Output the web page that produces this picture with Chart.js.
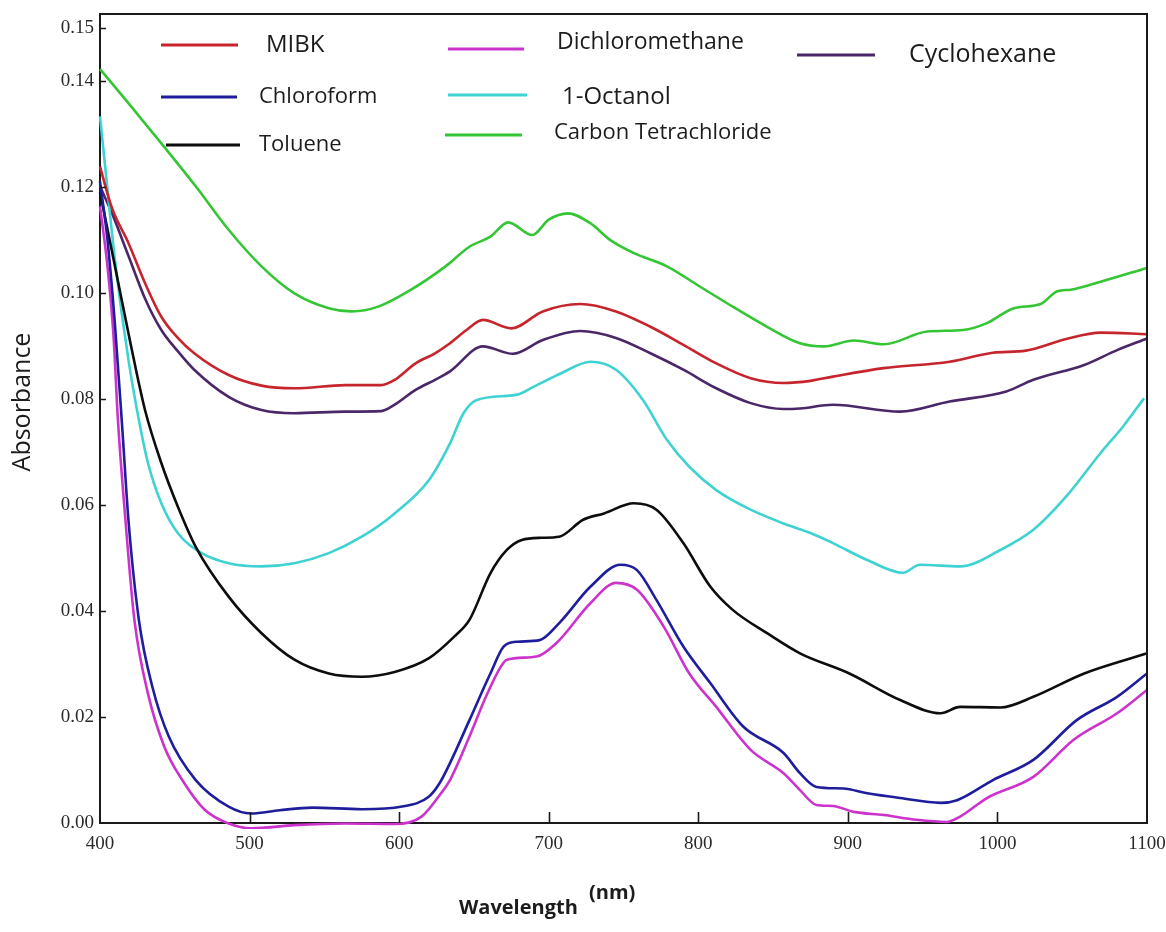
<!DOCTYPE html>
<html>
<head>
<meta charset="utf-8">
<title>Absorbance spectra</title>
<script src="https://cdn.jsdelivr.net/npm/chart.js@4.4.1/dist/chart.umd.min.js"></script>
<style>
  html, body { margin: 0; padding: 0; background: #ffffff; }
  #wrap { width: 1166px; height: 932px; }
</style>
</head>
<body>
<div id="wrap"><canvas id="spectra" width="1166" height="932"></canvas></div>
<script>
// Wavelengths (nm) and absorbance readings for each solvent
const mibkNm  = [400, 408, 419, 430, 441, 452, 463, 486, 508, 530, 564, 588, 597, 611, 624, 634, 645, 656, 675, 696, 721, 745, 768, 790, 812, 835, 857, 875, 890, 924, 968, 997, 1019, 1046, 1069, 1100];
const mibkAbs = [0.1238, 0.1160, 0.1094, 0.1019, 0.0955, 0.0915, 0.0886, 0.0845, 0.0825, 0.0820, 0.0826, 0.0826, 0.0836, 0.0867, 0.0886, 0.0905, 0.0930, 0.0949, 0.0933, 0.0965, 0.0979, 0.0965, 0.0936, 0.0902, 0.0867, 0.0839, 0.0830, 0.0834, 0.0842, 0.0858, 0.0870, 0.0887, 0.0891, 0.0913, 0.0925, 0.0922];

const chloroformNm  = [400, 405, 410, 415, 419, 426, 435, 446, 464, 486, 501, 520, 542, 575, 602, 620, 627, 634, 647, 661, 670, 679, 694, 707, 728, 748, 759, 772, 790, 808, 830, 857, 868, 879, 897, 913, 935, 962, 973, 997, 1024, 1053, 1080, 1100];
const chloroformAbs = [0.1210, 0.1100, 0.0940, 0.0740, 0.0572, 0.0383, 0.0257, 0.0163, 0.0081, 0.0031, 0.0018, 0.0024, 0.0029, 0.0026, 0.0031, 0.0050, 0.0075, 0.0113, 0.0194, 0.0282, 0.0333, 0.0342, 0.0345, 0.0377, 0.0446, 0.0487, 0.0477, 0.0421, 0.0333, 0.0264, 0.0182, 0.0132, 0.0094, 0.0068, 0.0065, 0.0056, 0.0047, 0.0038, 0.0043, 0.0081, 0.0119, 0.0194, 0.0238, 0.0282];

const tolueneNm  = [400, 410, 420, 430, 441, 452, 464, 486, 508, 530, 553, 575, 597, 620, 637, 647, 661, 672, 682, 695, 707, 723, 737, 757, 772, 790, 808, 823, 846, 868, 901, 935, 962, 975, 1002, 1024, 1058, 1100];
const tolueneAbs = [0.1190, 0.1050, 0.0910, 0.0780, 0.0679, 0.0597, 0.0521, 0.0427, 0.0358, 0.0308, 0.0282, 0.0276, 0.0285, 0.0311, 0.0352, 0.0383, 0.0471, 0.0515, 0.0534, 0.0538, 0.0540, 0.0572, 0.0584, 0.0603, 0.0591, 0.0528, 0.0446, 0.0402, 0.0358, 0.0320, 0.0282, 0.0232, 0.0207, 0.0219, 0.0218, 0.0238, 0.0282, 0.0320];

const dcmNm  = [400, 405, 409, 412, 417, 423, 432, 443, 455, 470, 486, 501, 530, 564, 597, 615, 628, 634, 647, 658, 668, 672, 692, 705, 728, 745, 759, 777, 794, 812, 835, 857, 868, 879, 890, 904, 924, 946, 966, 975, 993, 1024, 1051, 1080, 1100];
const dcmAbs = [0.1163, 0.1050, 0.0920, 0.0760, 0.0572, 0.0383, 0.0245, 0.0144, 0.0081, 0.0025, -0.0001, -0.0010, -0.0004, -0.0001, -0.0002, 0.0012, 0.0056, 0.0081, 0.0163, 0.0238, 0.0295, 0.0308, 0.0314, 0.0339, 0.0415, 0.0453, 0.0440, 0.0370, 0.0282, 0.0219, 0.0138, 0.0094, 0.0062, 0.0034, 0.0032, 0.0021, 0.0015, 0.0006, 0.0002, 0.0012, 0.0047, 0.0087, 0.0157, 0.0207, 0.0251];

const octanolNm  = [400, 403, 410, 419, 426, 432, 441, 452, 468, 486, 508, 530, 553, 575, 597, 620, 634, 643, 652, 679, 690, 708, 728, 745, 763, 779, 794, 812, 835, 857, 875, 890, 913, 937, 948, 975, 1002, 1024, 1046, 1069, 1084, 1098];
const octanolAbs = [0.1333, 0.1251, 0.1062, 0.0874, 0.0760, 0.0680, 0.0603, 0.0547, 0.0509, 0.0490, 0.0484, 0.0490, 0.0509, 0.0540, 0.0584, 0.0647, 0.0716, 0.0773, 0.0798, 0.0808, 0.0823, 0.0848, 0.0870, 0.0855, 0.0798, 0.0723, 0.0672, 0.0628, 0.0591, 0.0565, 0.0547, 0.0528, 0.0496, 0.0472, 0.0487, 0.0484, 0.0515, 0.0553, 0.0616, 0.0698, 0.0748, 0.0801];

const cclNm  = [400, 419, 441, 464, 486, 508, 530, 553, 568, 586, 608, 631, 647, 661, 673, 689, 700, 713, 728, 741, 757, 779, 801, 823, 846, 868, 884, 904, 924, 953, 977, 993, 1011, 1029, 1040, 1049, 1069, 1100];
const cclAbs = [0.1422, 0.1358, 0.1282, 0.1201, 0.1119, 0.1050, 0.0999, 0.0971, 0.0965, 0.0974, 0.1006, 0.1050, 0.1087, 0.1106, 0.1133, 0.1109, 0.1138, 0.1150, 0.1131, 0.1100, 0.1075, 0.1050, 0.1012, 0.0974, 0.0936, 0.0905, 0.0899, 0.0910, 0.0903, 0.0927, 0.0930, 0.0943, 0.0971, 0.0979, 0.1003, 0.1006, 0.1021, 0.1047];

const cyclohexaneNm  = [400, 408, 419, 430, 441, 452, 463, 486, 508, 530, 564, 588, 597, 611, 624, 634, 656, 676, 696, 721, 745, 768, 790, 812, 835, 857, 868, 890, 935, 968, 1006, 1024, 1058, 1080, 1100];
const cyclohexaneAbs = [0.1201, 0.1150, 0.1070, 0.0990, 0.0930, 0.0890, 0.0855, 0.0804, 0.0779, 0.0773, 0.0776, 0.0777, 0.0789, 0.0817, 0.0836, 0.0852, 0.0899, 0.0885, 0.0911, 0.0928, 0.0915, 0.0886, 0.0855, 0.0820, 0.0792, 0.0781, 0.0782, 0.0789, 0.0776, 0.0795, 0.0814, 0.0836, 0.0864, 0.0892, 0.0914];

// Axis tick values
const xTickValues = [400, 500, 600, 700, 800, 900, 1000, 1100];
const yTickValues = [0.00, 0.02, 0.04, 0.06, 0.08, 0.10, 0.12, 0.14, 0.15];

const pairUp = (nm, abs) => nm.map((w, i) => ({ x: w, y: abs[i] }));

const series = [
  { label: 'MIBK',                 nm: mibkNm,        abs: mibkAbs,        color: '#c7252d' },
  { label: 'Chloroform',           nm: chloroformNm,  abs: chloroformAbs,  color: '#1e1e9c' },
  { label: 'Toluene',              nm: tolueneNm,     abs: tolueneAbs,     color: '#0d0d0d' },
  { label: 'Dichloromethane',      nm: dcmNm,         abs: dcmAbs,         color: '#cc33cc' },
  { label: '1-Octanol',            nm: octanolNm,     abs: octanolAbs,     color: '#3fd2d2' },
  { label: 'Carbon Tetrachloride', nm: cclNm,         abs: cclAbs,         color: '#34c634' },
  { label: 'Cyclohexane',          nm: cyclohexaneNm, abs: cyclohexaneAbs, color: '#4a2768' }
];

// Legend placement: three columns inside the plot frame
const legendSlots = [
  { x1: 161, x2: 238, ly: 45,  tx: 266, ty: 45,  size: 24 },
  { x1: 161, x2: 237, ly: 97,  tx: 259, ty: 97,  size: 22 },
  { x1: 166, x2: 240, ly: 145, tx: 259, ty: 145, size: 22 },
  { x1: 448, x2: 524, ly: 49,  tx: 557, ty: 42,  size: 23 },
  { x1: 448, x2: 527, ly: 95,  tx: 562, ty: 97,  size: 24 },
  { x1: 445, x2: 522, ly: 135, tx: 554, ty: 133, size: 22 },
  { x1: 797, x2: 875, ly: 55,  tx: 909, ty: 55,  size: 25 }
];

const frameAndLabels = {
  id: 'frameAndLabels',
  afterDraw(chart) {
    const { ctx, chartArea: a, scales } = chart;
    ctx.save();
    // closing top and right edges of the frame
    ctx.strokeStyle = '#1a1a1a';
    ctx.lineWidth = 2;
    ctx.beginPath();
    ctx.moveTo(a.left, a.top); ctx.lineTo(a.right, a.top); ctx.lineTo(a.right, a.bottom);
    ctx.stroke();

    // inward tick marks
    ctx.lineWidth = 1.6;
    ctx.beginPath();
    scales.x.ticks.forEach(t => {
      if (t.value <= 400 || t.value >= 1100) return;
      const px = Math.round(scales.x.getPixelForValue(t.value)) + 0.5;
      ctx.moveTo(px, a.bottom); ctx.lineTo(px, a.bottom - 11);
    });
    scales.y.ticks.forEach(t => {
      if (t.value <= 0) return;
      const py = Math.round(scales.y.getPixelForValue(t.value)) + 0.5;
      ctx.moveTo(a.left, py); ctx.lineTo(a.left + 6, py);
    });
    ctx.stroke();

    // legend
    ctx.textBaseline = 'middle';
    ctx.textAlign = 'left';
    chart.data.datasets.forEach((ds, i) => {
      const s = legendSlots[i];
      ctx.strokeStyle = ds.borderColor;
      ctx.lineWidth = 3;
      ctx.beginPath(); ctx.moveTo(s.x1, s.ly); ctx.lineTo(s.x2, s.ly); ctx.stroke();
      ctx.fillStyle = '#1c1c1c';
      ctx.font = s.size + 'px "Open Sans", sans-serif';
      ctx.fillText(ds.label, s.tx, s.ty);
    });

    // axis titles
    ctx.fillStyle = '#1c1c1c';
    ctx.save();
    ctx.translate(23, 402);
    ctx.rotate(-Math.PI / 2);
    ctx.textAlign = 'center';
    ctx.font = '25px "Open Sans", sans-serif';
    ctx.fillText('Absorbance', 0, 0);
    ctx.restore();

    ctx.textAlign = 'left';
    ctx.font = 'bold 20px "Open Sans", sans-serif';
    ctx.fillText('Wavelength', 459, 908);
    ctx.fillText('(nm)', 589, 893);
    ctx.restore();
  }
};

new Chart(document.getElementById('spectra'), {
  type: 'line',
  data: {
    datasets: series.map(s => ({
      label: s.label,
      data: pairUp(s.nm, s.abs),
      borderColor: s.color,
      backgroundColor: s.color,
      borderWidth: 2.6,
      pointRadius: 0,
      cubicInterpolationMode: 'monotone',
      fill: false,
      clip: 6
    }))
  },
  options: {
    responsive: false,
    animation: false,
    devicePixelRatio: 1,
    layout: { padding: { left: 0, top: 14, right: 19, bottom: 0 } },
    plugins: { legend: { display: false }, tooltip: { enabled: false } },
    scales: {
      x: {
        type: 'linear',
        min: 400,
        max: 1100,
        afterBuildTicks: s => { s.ticks = xTickValues.map(v => ({ value: v })); },
        afterFit: s => { s.height = 109; s.paddingLeft = 0; s.paddingRight = 0; },
        grid: { display: false, drawTicks: false },
        border: { display: true, color: '#1a1a1a', width: 2 },
        ticks: {
          padding: 10,
          color: '#2a2a2a',
          font: { family: '"Liberation Serif", serif', size: 19 },
          callback: v => String(v)
        }
      },
      y: {
        type: 'linear',
        min: 0,
        max: 0.1526,
        afterBuildTicks: s => { s.ticks = yTickValues.map(v => ({ value: v })); },
        afterFit: s => { s.width = 100; s.paddingTop = 0; s.paddingBottom = 0; },
        grid: { display: false, drawTicks: false },
        border: { display: true, color: '#1a1a1a', width: 2 },
        ticks: {
          padding: 6,
          color: '#2a2a2a',
          font: { family: '"Liberation Serif", serif', size: 19 },
          callback: v => Number(v).toFixed(2)
        }
      }
    }
  },
  plugins: [frameAndLabels]
});
</script>
</body>
</html>
